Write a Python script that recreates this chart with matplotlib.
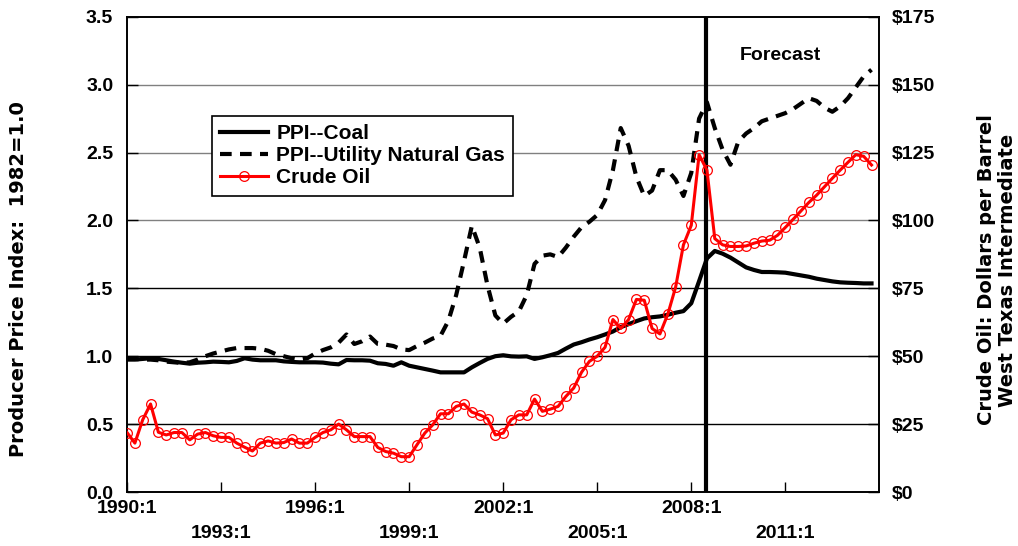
import matplotlib
matplotlib.use('Agg')
import matplotlib.pyplot as plt
import numpy as np

plt.rcParams['font.family'] = ['Liberation Sans', 'DejaVu Sans']
plt.rcParams['font.weight'] = 'bold'

# %% data: quarterly 1990:1 .. 2013:4
years = list(range(1990, 2014))
quarters = [f'{y}:{q}' for y in years for q in range(1, 5)]

coal = [0.975, 0.975, 0.98, 0.985, 0.98, 0.97, 0.96, 0.952, 0.945, 0.952, 0.955, 0.96,
        0.958, 0.955, 0.965, 0.985, 0.975, 0.97, 0.97, 0.97, 0.962, 0.958, 0.955, 0.955,
        0.955, 0.953, 0.945, 0.94, 0.972, 0.97, 0.97, 0.967, 0.948, 0.943, 0.93, 0.955,
        0.93, 0.918, 0.906, 0.894, 0.881, 0.881, 0.881, 0.881, 0.918, 0.95, 0.98, 1.0,
        1.007, 0.999, 0.997, 0.999, 0.98, 0.992, 1.007, 1.024, 1.056, 1.086, 1.103, 1.123,
        1.14, 1.16, 1.182, 1.214, 1.236, 1.258, 1.278, 1.287, 1.293, 1.305, 1.32, 1.332,
        1.39, 1.553, 1.72, 1.775, 1.755, 1.726, 1.69, 1.654, 1.635, 1.62, 1.62, 1.618,
        1.615, 1.605, 1.595, 1.585, 1.571, 1.561, 1.551, 1.544, 1.541, 1.539, 1.536, 1.536]

gas = [0.98, 0.98, 0.975, 0.975, 0.97, 0.96, 0.955, 0.95, 0.955, 0.975, 1.0, 1.02,
       1.035, 1.05, 1.06, 1.06, 1.06, 1.055, 1.04, 1.015, 1.0, 0.985, 0.975, 0.985,
       1.02, 1.045, 1.065, 1.10, 1.16, 1.09, 1.11, 1.145, 1.09, 1.085, 1.075, 1.05,
       1.045, 1.075, 1.10, 1.13, 1.15, 1.26, 1.45, 1.70, 1.96, 1.80, 1.52, 1.30,
       1.24, 1.29, 1.33, 1.45, 1.68, 1.74, 1.75, 1.73, 1.80, 1.88, 1.95, 1.99,
       2.04, 2.15, 2.37, 2.68, 2.55, 2.32, 2.18, 2.22, 2.37, 2.37, 2.30, 2.18,
       2.35, 2.75, 2.87, 2.68, 2.52, 2.41, 2.58, 2.64, 2.68, 2.73, 2.75, 2.77,
       2.79, 2.82, 2.86, 2.90, 2.88, 2.83, 2.80, 2.84, 2.90, 2.98, 3.06, 3.11]

crude = [21.9, 18.0, 26.6, 32.4, 22.0, 21.0, 21.9, 21.9, 19.2, 21.3, 21.9, 20.7,
         20.1, 20.1, 18.0, 16.5, 15.1, 18.0, 18.8, 18.0, 18.2, 19.5, 18.0, 18.0,
         20.1, 21.9, 22.9, 25.0, 22.9, 20.4, 20.4, 20.4, 16.4, 14.9, 14.3, 13.0,
         13.0, 17.4, 21.7, 24.7, 28.8, 28.8, 31.5, 32.4, 29.4, 28.4, 27.0, 21.0,
         21.7, 26.6, 28.4, 28.4, 34.2, 29.7, 30.5, 31.5, 35.2, 38.3, 44.1, 48.1,
         50.0, 53.3, 63.5, 60.2, 63.5, 70.9, 70.6, 60.2, 58.2, 65.4, 75.4, 91.0,
         98.2, 124.2, 118.5, 93.3, 91.0, 90.4, 90.4, 90.6, 91.6, 92.4, 92.7, 94.5,
         97.4, 100.4, 103.5, 106.6, 109.3, 112.4, 115.5, 118.5, 121.4, 124.2, 123.6, 120.4]

left_ticks = [0.0, 0.5, 1.0, 1.5, 2.0, 2.5, 3.0, 3.5]
right_ticks = [0, 25, 50, 75, 100, 125, 150, 175]
label_every = 12
forecast_start = 73.85

x = np.arange(len(quarters))

# %% figure
fig = plt.figure(figsize=(10.18, 5.46), dpi=100)
ax = fig.add_axes([0.1248, 0.0989, 0.739, 0.8705])
ax2 = ax.twinx()

# gridlines
for v in left_ticks[1:-1]:
    ax.axhline(v, color='#808080' if v >= 2.0 else 'black', lw=1.0, zorder=0)

ax.plot(x, coal, color='black', lw=3, label='PPI--Coal', zorder=3)
ax.plot(x, gas, color='black', lw=3, linestyle=(0, (2.8, 2.0)),
        label='PPI--Utility Natural Gas', zorder=3)
ax2.plot(x, crude, color='red', lw=2.2, marker='o', markersize=7,
         markerfacecolor='none', markeredgecolor='red', markeredgewidth=0.9,
         label='Crude Oil', zorder=3)

ax.axvline(forecast_start, color='black', lw=3, zorder=4)
ax.text(0.868, 0.919, 'Forecast', transform=ax.transAxes, ha='center', va='center',
        fontsize=14, fontweight='bold')

# axes
ax.set_xlim(0, len(quarters))
ax.set_ylim(0, 3.5)
ax2.set_ylim(0, 175)
ax.set_yticks(left_ticks)
ax.set_yticklabels([f'{v:.1f}' for v in left_ticks])
ax2.set_yticks(right_ticks)
ax2.set_yticklabels([f'${v}' for v in right_ticks])

tick_pos = x[::label_every]
tick_lab = [q if k % 2 == 0 else '\n' + q for k, q in enumerate(quarters[::label_every])]
ax.set_xticks(tick_pos)
ax.set_xticklabels(tick_lab, linespacing=1.6)

ax.tick_params(axis='x', direction='in', length=7, width=1, pad=6, labelsize=14)
ax.tick_params(axis='y', direction='in', length=8, width=1, pad=10, labelsize=14)
ax2.tick_params(axis='y', direction='in', length=8, width=1, pad=9, labelsize=14)
for a in (ax, ax2):
    for s in a.spines.values():
        s.set_linewidth(1.2)

# legend
h1, l1 = ax.get_legend_handles_labels()
h2, l2 = ax2.get_legend_handles_labels()
leg = ax2.legend(h1 + h2, l1 + l2, loc='upper left', bbox_to_anchor=(0.208, 0.788),
                 bbox_transform=fig.transFigure, borderaxespad=0, fancybox=False,
                 framealpha=1, edgecolor='black', fontsize=15, handlelength=2.3,
                 labelspacing=0.15, borderpad=0.4, handletextpad=0.4, numpoints=1)
leg.get_frame().set_linewidth(1.2)
leg.set_zorder(10)

# axis titles
fig.text(19 / 1018, 1 - 279 / 546, 'Producer Price Index:  1982=1.0', rotation=90,
         ha='center', va='center', fontsize=14, fontweight='bold', family='DejaVu Sans')
fig.text(997 / 1018, 1 - 270 / 546, 'Crude Oil: Dollars per Barrel\nWest Texas Intermediate',
         rotation=90, ha='center', va='center', multialignment='center',
         fontsize=14, fontweight='bold', family='DejaVu Sans', linespacing=1.1)

fig.savefig('out.png', dpi=100)
